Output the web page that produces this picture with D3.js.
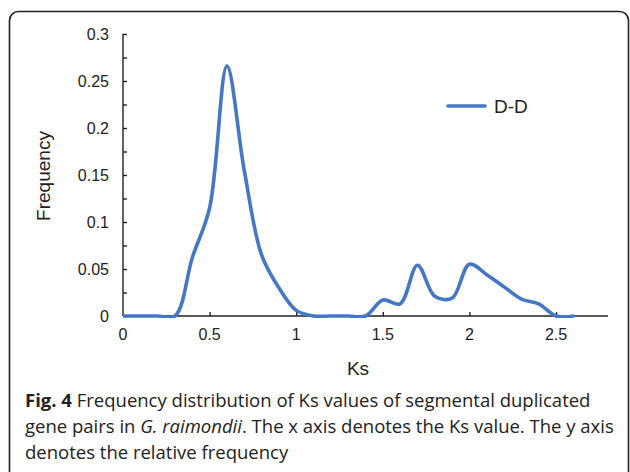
<!DOCTYPE html>
<html>
<head>
<meta charset="utf-8">
<script src="https://cdn.jsdelivr.net/npm/d3@7"></script>
<style>
  html, body { margin: 0; padding: 0; background: #fff; }
  svg { display: block; }
</style>
</head>
<body>
<svg id="chart" width="630" height="472"></svg>
<script>
// ---- data ----
const ksValues = [0, 0.1, 0.2, 0.3, 0.4, 0.5, 0.6, 0.7, 0.8, 0.9, 1.0, 1.1, 1.2, 1.3, 1.4,
                  1.5, 1.6, 1.7, 1.8, 1.9, 2.0, 2.1, 2.2, 2.3, 2.4, 2.5, 2.6];
const frequency = [0, 0, 0, 0, 0.062, 0.115, 0.266, 0.155, 0.065, 0.03, 0.006, 0, 0, 0, 0,
                   0.017, 0.013, 0.054, 0.021, 0.019, 0.055, 0.044, 0.031, 0.018, 0.013, 0, 0];
const seriesName = "D-D";
const xTicks = [0, 0.5, 1, 1.5, 2, 2.5];
const yTicks = [0, 0.05, 0.1, 0.15, 0.2, 0.25, 0.3];
const yMinorTicks = [0.025, 0.075, 0.125, 0.175, 0.225, 0.275];
const xLabel = "Ks";
const yLabel = "Frequency";

const svg = d3.select("#chart");

// frame
svg.append("rect")
  .attr("x", 9.5).attr("y", 11.5)
  .attr("width", 619).attr("height", 470)
  .attr("rx", 9).attr("ry", 9)
  .attr("fill", "none").attr("stroke", "#222").attr("stroke-width", 1.6);

const x = d3.scaleLinear().domain([0, 2.8]).range([123, 608]);
const y = d3.scaleLinear().domain([0, 0.3]).range([316, 34]);

const axisColor = "#222";
const fontFamily = "'Liberation Sans', Arial, sans-serif";

// y axis
const yAxis = svg.append("g").attr("transform", `translate(${x(0)},0)`)
  .call(d3.axisRight(y).tickValues(yTicks.concat(yMinorTicks)).tickSize(4).tickFormat(""));
yAxis.selectAll("path, line").attr("stroke", axisColor).attr("stroke-width", 1.4);
yAxis.select(".domain").attr("d", `M0,${y(0.3)}V${y(0)}`);

svg.append("g").selectAll("text").data(yTicks).join("text")
  .attr("x", 109).attr("y", d => y(d)).attr("dy", "0.36em")
  .attr("text-anchor", "end")
  .attr("font-family", fontFamily).attr("font-size", 16).attr("fill", "#222")
  .text(d => d3.format("")(d));

// x axis
const xAxis = svg.append("g").attr("transform", `translate(0,${y(0)})`)
  .call(d3.axisTop(x).tickValues(xTicks.filter(d => d > 0)).tickSize(4).tickFormat(""));
xAxis.selectAll("path, line").attr("stroke", axisColor).attr("stroke-width", 1.4);
xAxis.select(".domain").attr("d", `M${x(0)},0H${x(2.8)}`);

svg.append("g").selectAll("text").data(xTicks).join("text")
  .attr("x", d => x(d)).attr("y", 340)
  .attr("text-anchor", "middle")
  .attr("font-family", fontFamily).attr("font-size", 16).attr("fill", "#222")
  .text(d => d3.format("")(d));

// axis titles
svg.append("text")
  .attr("transform", `translate(50,176) rotate(-90)`)
  .attr("text-anchor", "middle")
  .attr("font-family", fontFamily).attr("font-size", 19).attr("fill", "#222")
  .text(yLabel);
svg.append("text")
  .attr("x", 358).attr("y", 375)
  .attr("text-anchor", "middle")
  .attr("font-family", fontFamily).attr("font-size", 19).attr("fill", "#222")
  .text(xLabel);

// clip
svg.append("clipPath").attr("id", "plotclip")
  .append("rect").attr("x", x(0)).attr("y", 0).attr("width", 600).attr("height", y(0) + 2);

const lineColor = "#4677c4";
const data = ksValues.map((k, i) => ({k, f: frequency[i]}));
const line = d3.line().x(d => x(d.k)).y(d => y(d.f)).curve(d3.curveCatmullRom.alpha(0.5));
svg.append("path")
  .datum(data)
  .attr("d", line)
  .attr("clip-path", "url(#plotclip)")
  .attr("fill", "none").attr("stroke", lineColor).attr("stroke-width", 3.6)
  .attr("stroke-linejoin", "round").attr("stroke-linecap", "round");

// legend
svg.append("line")
  .attr("x1", 448).attr("x2", 485).attr("y1", 106).attr("y2", 106)
  .attr("stroke", lineColor).attr("stroke-width", 3.6).attr("stroke-linecap", "round");
svg.append("text")
  .attr("x", 494).attr("y", 113)
  .attr("font-family", fontFamily).attr("font-size", 19).attr("fill", "#222")
  .text(seriesName);

// caption
const capFont = "'Open Sans', 'Noto Sans', sans-serif";
const cap = svg.append("g").attr("font-family", capFont).attr("font-size", 18.5).attr("fill", "#222");
const l1 = cap.append("text").attr("x", 25).attr("y", 407);
l1.append("tspan").attr("font-weight", "bold").text("Fig. 4");
l1.append("tspan").text(" Frequency distribution of Ks values of segmental duplicated");
const l2 = cap.append("text").attr("x", 25).attr("y", 433);
l2.append("tspan").text("gene pairs in ");
l2.append("tspan").attr("font-style", "italic").text("G. raimondii");
l2.append("tspan").text(". The x axis denotes the Ks value. The y axis");
cap.append("text").attr("x", 25).attr("y", 459).text("denotes the relative frequency");
</script>
</body>
</html>
